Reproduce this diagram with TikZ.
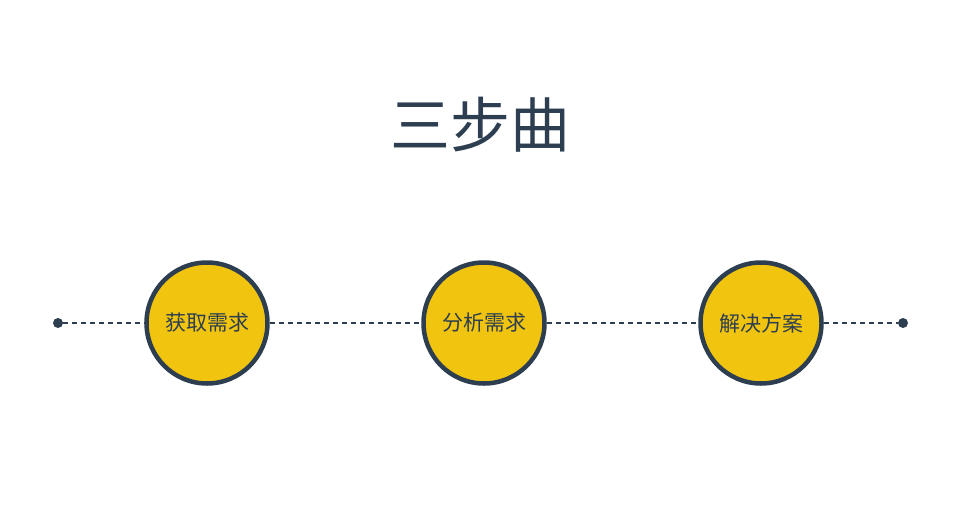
\documentclass[tikz,border=0pt]{standalone}
\usepackage{fontspec}
\newfontfamily\cjk{Noto Sans CJK SC}
\definecolor{navy}{HTML}{2C3E50}
\definecolor{gold}{HTML}{F1C40F}
\begin{document}
\begin{tikzpicture}[x=1pt,y=-1pt,
  stepcircle/.style={circle,draw=navy,line width=4.5pt,fill=gold,minimum size=121pt,inner sep=0pt,font=\cjk\fontsize{21}{21}\selectfont,text=navy},
  enddot/.style={circle,fill=navy,minimum size=10pt,inner sep=0pt},
  link/.style={draw=navy,line width=1.3pt,dash pattern=on 5pt off 4pt}]
\path[use as bounding box] (0,0) rectangle (960,506);
\node[font=\cjk\fontsize{60}{60}\selectfont,text=navy] (title) at (480,125) {三步曲};
\node[enddot] (d1) at (58,323) {};
\node[enddot] (d2) at (903,323) {};
\node[stepcircle] (a) at (207,323) {获取需求};
\node[stepcircle] (b) at (484,323) {分析需求};
\node[stepcircle] (c) at (761,323) {解决方案};
\draw[link] (d1) -- (a);
\draw[link] (a) -- (b);
\draw[link] (b) -- (c);
\draw[link] (c) -- (d2);
\end{tikzpicture}
\end{document}
